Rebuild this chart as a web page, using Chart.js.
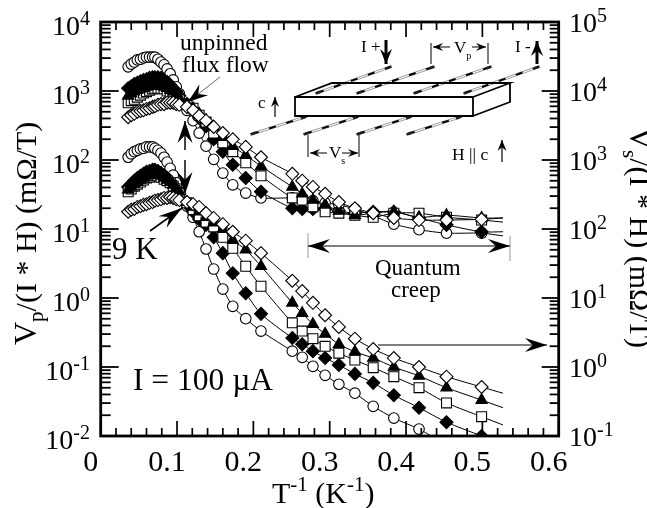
<!DOCTYPE html>
<html>
<head>
<meta charset="utf-8">
<title>Flux flow and quantum creep</title>
<script src="https://cdn.jsdelivr.net/npm/chart.js@4/dist/chart.umd.js"></script>
<style>
  html, body { margin: 0; padding: 0; background: #fff; }
  canvas { display: block; }
</style>
</head>
<body>
<canvas id="chart" width="647" height="508"></canvas>
<script>
// inverse temperature, K^-1 (shared by all curves, last one is the line end without symbol)
const inverseT = [
  0.036, 0.040, 0.044, 0.048, 0.052, 0.056, 0.060, 0.064, 0.068, 0.071, 0.075, 0.079, 0.083, 0.087, 0.091, 0.095, 0.099, 0.103,
  0.113, 0.121, 0.129, 0.138, 0.148, 0.160, 0.173, 0.190, 0.210, 0.251, 0.264, 0.278, 0.294, 0.312, 0.333, 0.357, 0.384, 0.417, 0.453, 0.499, 0.527
];

// Values in decades (log10 of the axis value)
// Vp curves, left axis
const vpCircle = [
  3.35, 3.39, 3.42, 3.45, 3.46, 3.48, 3.49, 3.49, 3.49, 3.49, 3.46, 3.42, 3.38, 3.32, 3.25, 3.16, 3.06, 2.96,
  2.72, 2.57, 2.39, 2.20, 2.01, 1.81, 1.64, 1.52, 1.45, 1.45, 1.43, 1.41, 1.38, 1.35, 1.29, 1.19, 1.07, 0.99, 0.94, 0.94, 0.90
];
const vpFilledDiamond = [
  3.04, 3.07, 3.10, 3.12, 3.14, 3.16, 3.17, 3.19, 3.20, 3.20, 3.20, 3.19, 3.16, 3.13, 3.09, 3.04, 2.99, 2.93,
  2.81, 2.72, 2.61, 2.49, 2.30, 2.12, 1.93, 1.74, 1.54, 1.30, 1.29, 1.29, 1.29, 1.26, 1.23, 1.25, 1.25, 1.16, 1.06, 0.96, 0.96
];
const vpSquare = [
  2.83, 2.86, 2.88, 2.91, 2.94, 2.97, 2.99, 3.01, 3.03, 3.04, 3.04, 3.04, 3.03, 3.00, 2.97, 2.94, 2.90, 2.87,
  2.81, 2.75, 2.65, 2.55, 2.39, 2.25, 2.12, 1.96, 1.77, 1.45, 1.42, 1.32, 1.25, 1.23, 1.20, 1.17, 1.23, 1.23, 1.17, 1.13, 1.10
];
const vpTriangle = [
  2.93, 2.96, 2.99, 3.01, 3.03, 3.04, 3.06, 3.07, 3.09, 3.09, 3.09, 3.07, 3.06, 3.04, 3.01, 2.99, 2.94, 2.90,
  2.81, 2.75, 2.67, 2.58, 2.48, 2.33, 2.20, 2.07, 1.91, 1.61, 1.51, 1.42, 1.35, 1.26, 1.20, 1.23, 1.25, 1.17, 1.20, 1.16, 1.16
];
const vpDiamond = [
  2.62, 2.65, 2.67, 2.70, 2.71, 2.72, 2.74, 2.75, 2.77, 2.78, 2.80, 2.81, 2.81, 2.83, 2.83, 2.83, 2.81, 2.80,
  2.77, 2.72, 2.64, 2.57, 2.48, 2.39, 2.30, 2.19, 2.04, 1.80, 1.70, 1.61, 1.51, 1.39, 1.30, 1.23, 1.16, 1.13, 1.13, 1.14, 1.16
];

// Vs curves, right axis
const vsCircle = [
  3.04, 3.09, 3.12, 3.14, 3.16, 3.17, 3.19, 3.19, 3.19, 3.17, 3.14, 3.10, 3.04, 2.97, 2.88, 2.78, 2.67, 2.54,
  2.33, 2.17, 1.96, 1.71, 1.42, 1.13, 0.88, 0.70, 0.52, 0.23, 0.14, 0.01, -0.12, -0.25, -0.38, -0.57, -0.74, -0.90, -1.13, null, null
];
const vsFilledDiamond = [
  2.61, 2.65, 2.70, 2.74, 2.77, 2.80, 2.83, 2.84, 2.86, 2.86, 2.84, 2.81, 2.78, 2.74, 2.70, 2.64, 2.58, 2.51,
  2.36, 2.25, 2.14, 2.06, 1.88, 1.65, 1.36, 1.07, 0.77, 0.42, 0.33, 0.23, 0.13, 0.03, -0.10, -0.23, -0.41, -0.59, -0.80, -1.00, null
];
const vsSquare = [
  2.54, 2.58, 2.62, 2.65, 2.68, 2.71, 2.74, 2.75, 2.77, 2.77, 2.77, 2.75, 2.72, 2.70, 2.67, 2.62, 2.58, 2.52,
  2.38, 2.28, 2.19, 2.10, 2.03, 1.88, 1.72, 1.46, 1.17, 0.64, 0.52, 0.41, 0.30, 0.20, 0.10, -0.01, -0.14, -0.30, -0.52, -0.72, -0.84
];
const vsTriangle = [
  2.57, 2.61, 2.65, 2.68, 2.71, 2.74, 2.77, 2.78, 2.80, 2.80, 2.78, 2.77, 2.74, 2.71, 2.68, 2.64, 2.59, 2.54,
  2.39, 2.32, 2.25, 2.17, 2.09, 2.00, 1.84, 1.70, 1.46, 0.93, 0.78, 0.62, 0.48, 0.33, 0.22, 0.13, 0.00, -0.13, -0.30, -0.48, -0.59
];
const vsDiamond = [
  2.25, 2.28, 2.29, 2.32, 2.33, 2.35, 2.36, 2.38, 2.39, 2.41, 2.42, 2.43, 2.45, 2.45, 2.46, 2.45, 2.43, 2.42,
  2.39, 2.36, 2.32, 2.23, 2.16, 2.07, 1.96, 1.83, 1.65, 1.25, 1.10, 0.93, 0.75, 0.58, 0.41, 0.26, 0.13, 0.00, -0.14, -0.29, -0.38
];

const xTicks = [0, 0.1, 0.2, 0.3, 0.4, 0.5, 0.6];
const leftDecades = [-2, -1, 0, 1, 2, 3, 4];
const rightDecades = [-1, 0, 1, 2, 3, 4, 5];

const SERIF = '"Liberation Serif", serif';

function curve(values, axis, style, r, fill) {
  const last = values.length - 1;
  return {
    data: values.map((v, i) => ({ x: inverseT[i], y: v === null ? null : Math.pow(10, v) })),
    yAxisID: axis,
    borderColor: '#000',
    borderWidth: 1,
    tension: 0.25,
    pointStyle: style,
    pointBackgroundColor: fill,
    pointBorderColor: '#000',
    pointBorderWidth: 1.1,
    pointRadius: ctx => (ctx.dataIndex === last ? 0 : r)
  };
}

// Write a line of text with raised or lowered parts. Parts are [text, size, shift].
function writeRuns(ctx, x, y, parts, angle) {
  ctx.save();
  ctx.translate(x, y);
  ctx.rotate(angle || 0);
  ctx.fillStyle = '#000';
  ctx.textAlign = 'left';
  ctx.textBaseline = 'alphabetic';
  let pos = 0;
  parts.forEach(([text, size, shift]) => {
    ctx.font = size + 'px ' + SERIF;
    ctx.fillText(text, pos, shift || 0);
    pos += ctx.measureText(text).width;
  });
  ctx.restore();
}

function line(ctx, x0, y0, x1, y1, width, color) {
  ctx.strokeStyle = color || '#000';
  ctx.lineWidth = width;
  ctx.beginPath();
  ctx.moveTo(x0, y0);
  ctx.lineTo(x1, y1);
  ctx.stroke();
}

// Line ending in a swept back arrow head at x1,y1
function arrow(ctx, x0, y0, x1, y1, width, len, wide, color) {
  line(ctx, x0, y0, x1, y1, width, color);
  const a = Math.atan2(y1 - y0, x1 - x0);
  ctx.save();
  ctx.translate(x1, y1);
  ctx.rotate(a);
  ctx.fillStyle = '#000';
  ctx.beginPath();
  ctx.moveTo(0, 0);
  ctx.lineTo(-len, -wide);
  ctx.lineTo(-len * 0.65, 0);
  ctx.lineTo(-len, wide);
  ctx.closePath();
  ctx.fill();
  ctx.restore();
}

function lead(ctx, x0, y0, x1, y1) {
  line(ctx, x0, y0 - 1, x1, y1 - 1, 0.6, '#555');
  line(ctx, x0, y0 + 1, x1, y1 + 1, 0.6, '#555');
  ctx.setLineDash([7, 11]);
  line(ctx, x0, y0, x1, y1, 2, '#000');
  ctx.setLineDash([]);
  line(ctx, x0 - 1.5, y0 + 0.5, x0 + 4, y0 - 1.5, 2.5, '#222');
  line(ctx, x1 - 4, y1 + 1.5, x1 + 1.5, y1 - 0.5, 2.5, '#222');
}

const frameAndLabels = {
  id: 'frameAndLabels',
  afterDatasetsDraw(chart) {
    const { ctx, chartArea: area, scales } = chart;
    const { left, right, top, bottom } = area;
    ctx.save();
    ctx.lineCap = 'butt';

    // x ticks, both sides
    for (let i = 0; i <= 30; i++) {
      const px = scales.x.getPixelForValue(i * 0.02);
      const len = i % 5 === 0 ? 15 : 8;
      line(ctx, px, bottom, px, bottom - len, 1.7);
      line(ctx, px, top, px, top + len, 1.7);
    }
    // y ticks, each side from its own scale
    leftDecades.forEach(d => {
      for (let m = 1; m <= 9; m++) {
        if (d === 4 && m > 1) break;
        const py = scales.y.getPixelForValue(m * Math.pow(10, d));
        line(ctx, left, py, left + (m === 1 ? 18 : 10), py, 1.8);
      }
    });
    rightDecades.forEach(d => {
      for (let m = 1; m <= 9; m++) {
        if (d === 5 && m > 1) break;
        const py = scales.y2.getPixelForValue(m * Math.pow(10, d));
        line(ctx, right, py, right - (m === 1 ? 17 : 9), py, 1.8);
      }
    });
    ctx.strokeStyle = '#000';
    ctx.lineWidth = 2.8;
    ctx.strokeRect(left, top, right - left, bottom - top);

    // decade labels
    leftDecades.forEach(d => {
      const py = scales.y.getPixelForValue(Math.pow(10, d));
      ctx.font = '20px ' + SERIF;
      const supW = ctx.measureText(String(d)).width;
      writeRuns(ctx, 90 - supW - 28, py + 13, [['10', 28], [String(d), 20, -10]]);
    });
    rightDecades.forEach(d => {
      const py = scales.y2.getPixelForValue(Math.pow(10, d));
      writeRuns(ctx, 569, py + 10, [['10', 28], [String(d), 20, -10]]);
    });

    // axis titles
    writeRuns(ctx, 36, 345, [['V', 32], ['p', 21, 7], ['/(I * H) (m\u03A9/T)', 30]], -Math.PI / 2);
    writeRuns(ctx, 630, 127, [['V', 32], ['s', 21, 7], ['/(I * H) (m\u03A9/T)', 30]], Math.PI / 2);
    writeRuns(ctx, 272, 503, [['T', 30], ['-1', 21, -12], [' (K', 30], ['-1', 21, -12], [')', 30]]);

    // notes in the plot
    writeRuns(ctx, 180, 50, [['unpinned', 23.5]]);
    writeRuns(ctx, 182, 72, [['flux flow', 23.5]]);
    arrow(ctx, 220, 77, 188, 102, 0.8, 20, 7, '#444');
    arrow(ctx, 185, 150, 185, 121, 2, 22, 7.5, '#444');
    arrow(ctx, 185, 160, 185, 194, 2, 22, 7.5, '#444');
    writeRuns(ctx, 112, 259, [['9 K', 31]]);
    arrow(ctx, 150, 231, 182, 208, 1.6, 24, 7);
    writeRuns(ctx, 133, 390, [['I = 100 \u00B5A', 31.5]]);
    arrow(ctx, 378, 345, 547, 345, 1.2, 22, 7);

    line(ctx, 308, 233, 308, 258, 1, '#999');
    line(ctx, 510, 236, 510, 261, 1, '#999');
    arrow(ctx, 400, 246, 308, 246, 1.2, 22, 7);
    arrow(ctx, 400, 246, 510, 246, 1.2, 22, 7);
    writeRuns(ctx, 375, 275, [['Quantum', 23]]);
    writeRuns(ctx, 391, 297, [['creep', 23]]);

    // sample sketch: leads behind, then box
    lead(ctx, 317, 93, 390, 67);
    lead(ctx, 358, 93, 433, 67);
    lead(ctx, 415, 93, 490, 67);
    lead(ctx, 465, 93, 538, 67);
    lead(ctx, 252, 134, 305, 117);
    lead(ctx, 305, 134, 357, 117);
    lead(ctx, 358, 134, 410, 117);
    lead(ctx, 408, 134, 460, 117);

    ctx.lineWidth = 1.8;
    ctx.strokeStyle = '#000';
    ctx.beginPath();
    ctx.rect(295, 97, 178, 19);
    ctx.moveTo(295, 97);
    ctx.lineTo(332, 83);
    ctx.lineTo(510, 83);
    ctx.lineTo(473, 97);
    ctx.moveTo(510, 83);
    ctx.lineTo(510, 102);
    ctx.lineTo(473, 116);
    ctx.stroke();

    writeRuns(ctx, 361, 52, [['I +', 17]]);
    arrow(ctx, 386, 40, 386, 64, 3, 15, 6);
    writeRuns(ctx, 515, 52, [['I -', 17]]);
    arrow(ctx, 537, 64, 537, 41, 3, 15, 6);
    writeRuns(ctx, 258, 108, [['c', 17]]);
    arrow(ctx, 275, 117, 275, 97, 1.2, 10, 4);
    writeRuns(ctx, 452, 160, [['H || c', 17.5]]);
    arrow(ctx, 502, 162, 502, 140, 1.2, 11, 4.5);

    line(ctx, 431, 43, 431, 64, 1);
    line(ctx, 488, 43, 488, 64, 1);
    arrow(ctx, 450, 47, 433, 47, 1, 10, 4);
    arrow(ctx, 472, 47, 486, 47, 1, 10, 4);
    writeRuns(ctx, 454, 53, [['V', 17], ['p', 10, 6]]);

    line(ctx, 308, 135, 308, 157, 1);
    line(ctx, 359, 135, 359, 157, 1);
    arrow(ctx, 327, 153, 310, 153, 1, 10, 4);
    arrow(ctx, 342, 153, 358, 153, 1, 10, 4);
    writeRuns(ctx, 329, 158, [['V', 17], ['s', 10, 6]]);

    ctx.restore();
  }
};

new Chart(document.getElementById('chart'), {
  type: 'line',
  data: {
    datasets: [
      // first dataset ends up on top
      curve(vpDiamond, 'y', 'rectRot', 6.5, '#fff'),
      curve(vpTriangle, 'y', 'triangle', 6.5, '#000'),
      curve(vpSquare, 'y', 'rect', 7, '#fff'),
      curve(vpFilledDiamond, 'y', 'rectRot', 6.5, '#000'),
      curve(vpCircle, 'y', 'circle', 5.3, '#fff'),
      curve(vsDiamond, 'y2', 'rectRot', 6.5, '#fff'),
      curve(vsTriangle, 'y2', 'triangle', 6.5, '#000'),
      curve(vsSquare, 'y2', 'rect', 7, '#fff'),
      curve(vsFilledDiamond, 'y2', 'rectRot', 6.5, '#000'),
      curve(vsCircle, 'y2', 'circle', 5.3, '#fff')
    ]
  },
  options: {
    responsive: false,
    animation: false,
    layout: { padding: { left: 100.7, right: 88.3, top: 22, bottom: 0 } },
    plugins: { legend: { display: false }, tooltip: { enabled: false } },
    scales: {
      x: {
        type: 'linear',
        min: 0,
        max: 0.6,
        // labels live in a fixed 72px band under the plot
        afterFit: scale => {
          scale.paddingLeft = 0;
          scale.paddingRight = 0;
          scale.height = 72;
        },
        afterBuildTicks: scale => { scale.ticks = xTicks.map(value => ({ value })); },
        grid: { display: false, drawTicks: false },
        border: { display: false },
        ticks: {
          color: '#000',
          font: { family: SERIF, size: 30 },
          padding: 9,
          labelOffset: -10,
          maxRotation: 0,
          autoSkip: false,
          callback: v => (v === 0 ? '0' : v.toFixed(1))
        }
      },
      y: {
        type: 'logarithmic',
        position: 'left',
        min: 0.01,
        max: 10000,
        afterFit: scale => { scale.width = 0; },
        grid: { display: false, drawTicks: false },
        border: { display: false },
        ticks: { display: false }
      },
      y2: {
        type: 'logarithmic',
        position: 'right',
        min: 0.1,
        max: 100000,
        afterFit: scale => { scale.width = 0; },
        grid: { display: false, drawTicks: false },
        border: { display: false },
        ticks: { display: false }
      }
    }
  },
  plugins: [frameAndLabels]
});
</script>
</body>
</html>
